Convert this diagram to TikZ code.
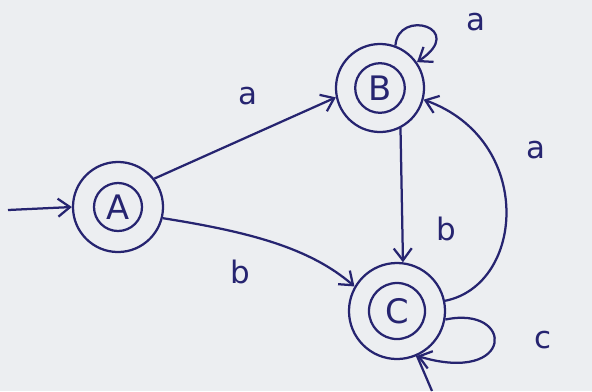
\documentclass[tikz,border=0pt]{standalone}
\usepackage{fontspec}
\setmainfont{DejaVu Sans}
\usetikzlibrary{arrows.meta}
\definecolor{ink}{RGB}{38,36,112}
\definecolor{paper}{RGB}{236,238,241}
\begin{document}
\begin{tikzpicture}[x=0.025cm,y=-0.025cm,
  st/.style={circle,draw=ink,line width=1.6pt,inner sep=0pt,text=ink,font=\fontsize{24}{26}\selectfont},
  inring/.style={draw=ink,line width=1.6pt},
  edge/.style={draw=ink,line width=1.6pt,-{Straight Barb[length=3mm,width=4.5mm,line width=1.6pt]}},
  lbl/.style={text=ink,font=\fontsize{22}{24}\selectfont}]
\fill[paper] (0,0) rectangle (592,391);
\useasboundingbox (0,0) rectangle (592,391);
% states
\node[st,minimum size=2.25cm] (A) at (118,207) {A};
\node[st,minimum size=2.2cm] (B) at (380,88) {B};
\node[st,minimum size=2.4cm] (C) at (397,311) {C};
\draw[inring] (A.center) circle[radius=0.6cm];
\draw[inring] (B.center) circle[radius=0.62cm];
\draw[inring] (C.center) circle[radius=0.7cm];
% start
\coordinate (s) at (8,210);
\draw[edge] (s) -- (A.180);
% transitions
\draw[edge] (A.38) -- (B.192);
\node[lbl] (la1) at (248,96) {a};
\draw[edge] (A.-14) .. controls (250,232) and (310,248) .. (C.150);
\node[lbl] (lb1) at (240,272) {b};
\draw[edge] (B.-63) -- (C.83);
\node[lbl] (lb2) at (446,229) {b};
\draw[edge] (C.12) .. controls (525,285) and (535,140) .. (B.-15);
\node[lbl] (la2) at (536,150) {a};
\draw[edge] (B.70) .. controls (398,8) and (468,28) .. (B.35);
\node[lbl] (la3) at (476,22) {a};
\draw[edge] (C.-10) .. controls (515,305) and (515,385) .. (C.-66);
\node[lbl] (lc) at (543,340) {c};
\coordinate (tail) at (432,391);
\draw[draw=ink,line width=1.6pt] (C.-66) -- (tail);
\end{tikzpicture}
\end{document}
